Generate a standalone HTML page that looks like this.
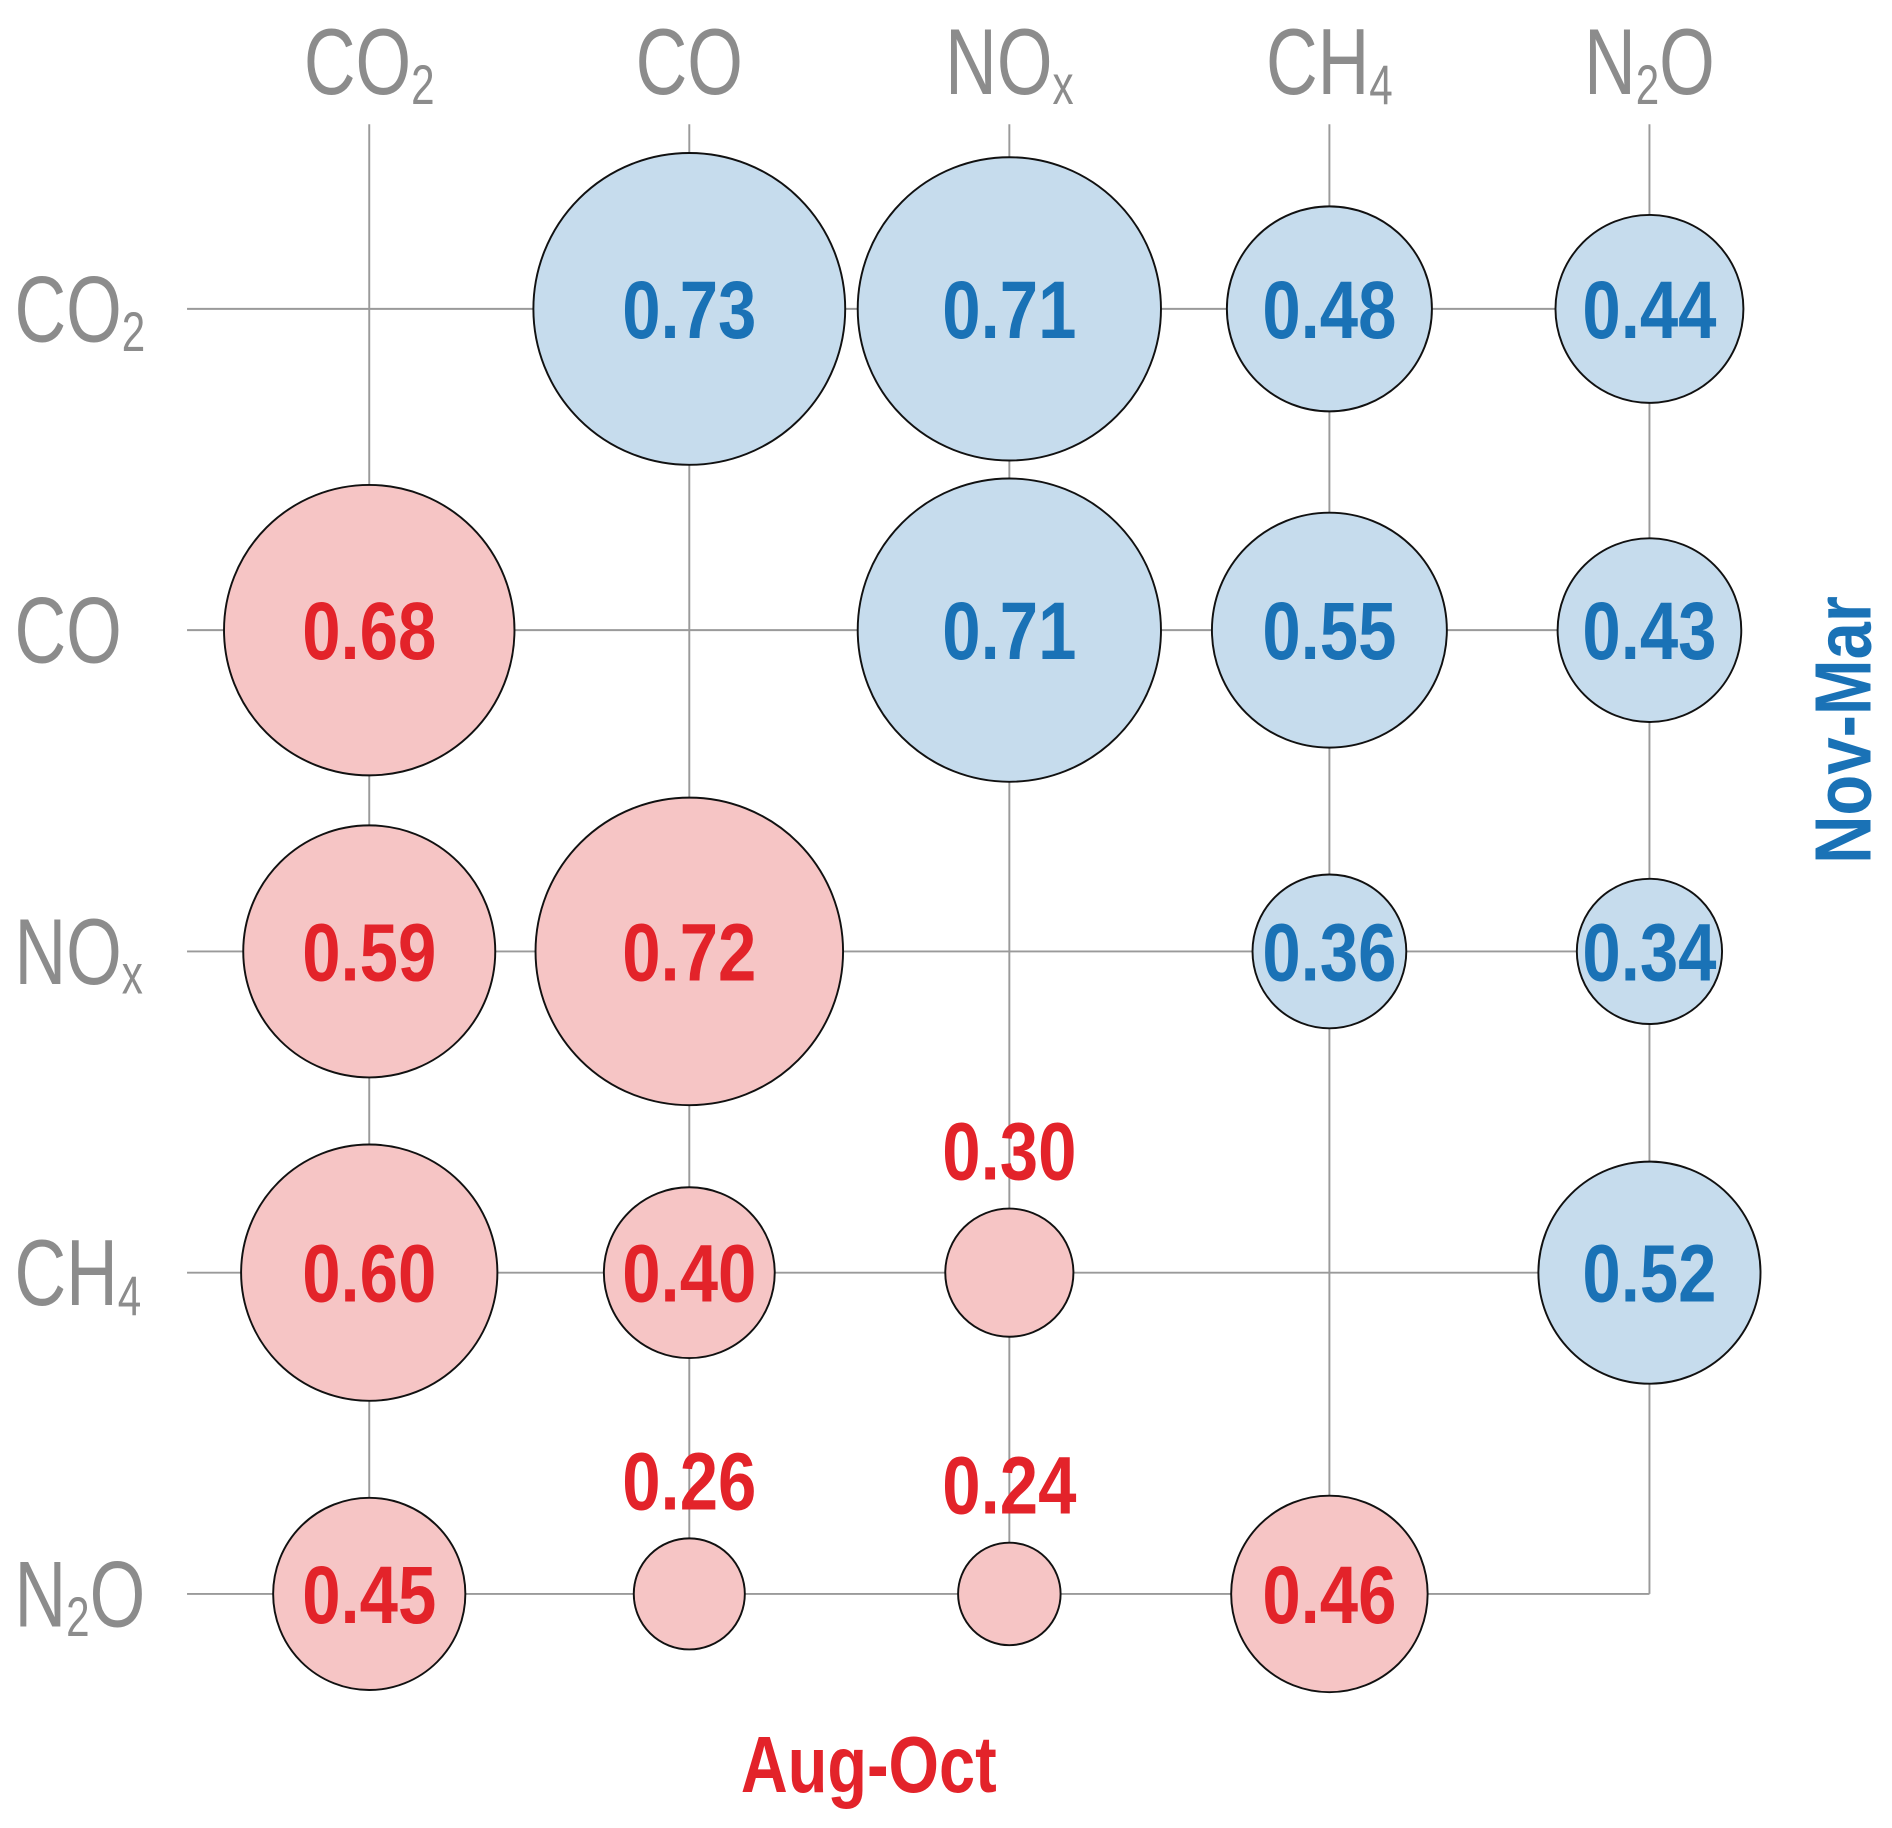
<!DOCTYPE html>
<html><head><meta charset="utf-8"><style>
html,body{margin:0;padding:0;background:#fff;}
svg{display:block;}
text{font-family:"Liberation Sans Narrow","Liberation Sans",sans-serif;}
</style></head>
<body>
<svg id="chart" width="1892" height="1828" viewBox="0 0 1568 1515" xmlns="http://www.w3.org/2000/svg">
<g id="grid"></g>
<g id="headers"></g>
<g id="bubbles"></g>
<text x="720" y="1485" text-anchor="middle" font-size="66" font-weight="bold" fill="#e3232a" textLength="212" lengthAdjust="spacingAndGlyphs">Aug-Oct</text>
<text transform="translate(1550,605) rotate(-90)" text-anchor="middle" font-size="66" font-weight="bold" fill="#1a72b6" textLength="222" lengthAdjust="spacingAndGlyphs">Nov-Mar</text>
</svg>
<script>
const species = ["CO2","CO","NOx","CH4","N2O"];
const speciesMain = ["CO","CO","NO","CH","N"];
const speciesSub = ["2","","x","4","2"];
const speciesTail = ["","","","","O"];
// upper triangle (Nov-Mar) values: [row, col, value]
const novMar = [[0,1,0.73],[0,2,0.71],[0,3,0.48],[0,4,0.44],[1,2,0.71],[1,3,0.55],[1,4,0.43],[2,3,0.36],[2,4,0.34],[3,4,0.52]];
// lower triangle (Aug-Oct) values
const augOct = [[1,0,0.68],[2,0,0.59],[2,1,0.72],[3,0,0.60],[3,1,0.40],[3,2,0.30],[4,0,0.45],[4,1,0.26],[4,2,0.24],[4,3,0.46]];

const NS="http://www.w3.org/2000/svg";
const x0=306, step=265.25, y0=256;
const xPos=i=>x0+i*step;
const yPos=i=>y0+i*266.25;
const rScale=v=>v*177;
function mk(tag,attrs,parent){const e=document.createElementNS(NS,tag);for(const k in attrs)e.setAttribute(k,attrs[k]);parent.appendChild(e);return e;}
const grid=document.getElementById('grid'), hd=document.getElementById('headers'), bb=document.getElementById('bubbles');
species.forEach((s,i)=>{
  const h=mk('line',{x1:155,x2:xPos(4),y1:yPos(i),y2:yPos(i),stroke:'#9a9a9a','stroke-width':1.6},grid);
  
  
  const v=mk('line',{x1:xPos(i),x2:xPos(i),y1:103,y2:yPos(4),stroke:'#9a9a9a','stroke-width':1.6},grid);
  
  
  const html=speciesMain[i]+(speciesSub[i]?'<tspan font-size="46" dy="8">'+speciesSub[i]+'</tspan>':'')+(speciesTail[i]?'<tspan dy="-8">'+speciesTail[i]+'</tspan>':'');
  const g1=mk('g',{transform:'translate('+xPos(i)+',78) scale(0.76,1)'},hd);
  const t=mk('text',{x:0,y:0,'text-anchor':'middle','font-size':78,fill:'#8c8c8c'},g1);
  
  
  t.innerHTML=html;
  const g2=mk('g',{transform:'translate(12,'+(yPos(i)+27)+') scale(0.76,1)'},hd);
  const r=mk('text',{x:0,y:0,'text-anchor':'start','font-size':78,fill:'#8c8c8c'},g2);
  
  
  r.innerHTML=html;
});
function drawSet(arr,fill,col,season){
  arr.forEach(([ri,ci,v])=>{
    const cx=xPos(ci), cy=yPos(ri), r=rScale(v);
    const c=mk('circle',{cx:cx,cy:cy,r:r,fill:fill,stroke:'#111','stroke-width':1.6},bb);
    
    
    const ty = v<0.33 ? cy-r-24 : cy+24;
    const g=mk('g',{transform:'translate('+cx+','+ty+') scale(0.84,1)'},bb);
    const t=mk('text',{x:0,y:0,'text-anchor':'middle','font-size':68,'font-weight':'bold',fill:col},g);
    
    
    t.textContent=v.toFixed(2);
  });
}
drawSet(novMar,'#c6dced','#1a72b6','nov-mar');
drawSet(augOct,'#f6c5c5','#e3232a','aug-oct');
</script>
</body></html>
